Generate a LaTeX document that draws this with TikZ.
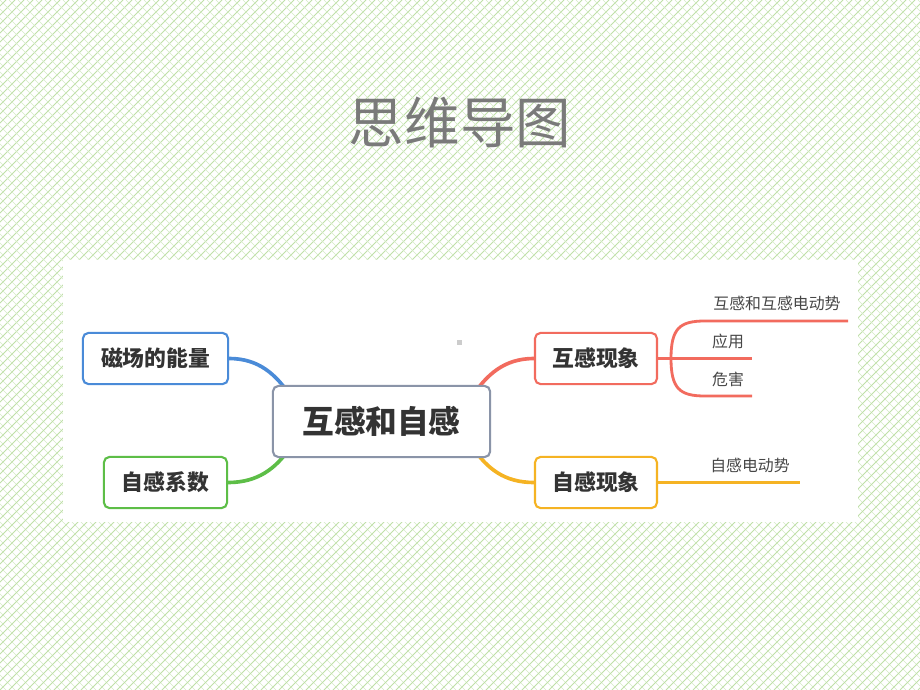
\documentclass[tikz,border=0pt]{standalone}
\usepackage{fontspec}
\newfontfamily\cjk{Noto Sans CJK SC}
\usetikzlibrary{positioning}
\definecolor{hatch}{HTML}{BFE0A8}
\definecolor{titlegray}{HTML}{7A7A7A}
\definecolor{rootline}{HTML}{8A94A8}
\definecolor{bblue}{HTML}{4A8BD8}
\definecolor{bgreen}{HTML}{5DBE47}
\definecolor{bred}{HTML}{F26B5E}
\definecolor{borange}{HTML}{F5B323}
\definecolor{txt}{HTML}{333333}
\pgfdeclarelayer{bg}
\pgfdeclarelayer{links}
\pgfsetlayers{bg,links,main}
\tikzset{
  topic/.style={draw,fill=white,rounded corners=4pt,line width=1.5pt,
    minimum height=1.28cm,text=txt,font=\cjk\bfseries\fontsize{15.5}{18}\selectfont},
  leaf/.style={text=txt!90,font=\cjk\fontsize{11.3}{13}\selectfont,inner sep=1pt},
  branch/.style={line width=2.6pt,line cap=round},
  twig/.style={line width=2pt}
}
\begin{document}
\begin{tikzpicture}[x=0.025cm,y=-0.025cm]
\useasboundingbox (0,0) rectangle (920,690);
% background with hatching
\begin{pgfonlayer}{bg}
\fill[white] (0,0) rectangle (920,690);
\begin{scope}
\clip (0,0) rectangle (920,690);
\foreach \i in {-693,-684,...,925}{
  \draw[hatch,line width=0.7pt] (\i,690) -- (\i+690,0);
  \draw[hatch!65,line width=0.45pt] (\i,0) -- (\i+690,690);
}
\end{scope}
\fill[white] (63,260) rectangle (858,522);
\fill[gray!40] (457,340) rectangle (462,345);
\end{pgfonlayer}
\node[text=titlegray,font=\cjk\fontsize{39.5}{44}\selectfont] (title) at (460,122) {思维导图};
% the map
\node[topic,draw=rootline,minimum width=5.43cm,minimum height=1.78cm,
  font=\cjk\bfseries\fontsize{22.5}{26}\selectfont] (root) at (381.5,421.5) {互感和自感};
\node[topic,draw=bblue,minimum width=3.63cm] (energy) at (155.5,358.5) {磁场的能量};
\node[topic,draw=bgreen,minimum width=3.08cm] (coef) at (165.5,482.5) {自感系数};
\node[topic,draw=bred,minimum width=3.05cm] (mutual) at (596,358.5) {互感现象};
\node[topic,draw=borange,minimum width=3.05cm] (self) at (596,482.5) {自感现象};
\begin{pgfonlayer}{links}
\draw[branch,bblue] (energy.east) .. controls +(30,0) and +(-14,-20) .. ([shift={(18,10)}]root.north west);
\draw[branch,bgreen] (coef.east) .. controls +(30,0) and +(-14,20) .. ([shift={(18,-10)}]root.south west);
\draw[branch,bred] (mutual.west) .. controls +(-30,0) and +(14,-20) .. ([shift={(-18,10)}]root.north east);
\draw[branch,borange] (self.west) .. controls +(-30,0) and +(14,20) .. ([shift={(-18,-10)}]root.south east);
\end{pgfonlayer}
% sub topics
\coordinate (fork) at (671,358.5);
\coordinate (e1) at (848,321);
\coordinate (e2) at (752,358.5);
\coordinate (e3) at (752,396);
\coordinate (e4) at (800,482.5);
\draw[twig,bred] (mutual.east) -- (fork);
\draw[twig,bred] (fork) .. controls (671,328) and (680,321) .. (705,321) -- (e1);
\draw[twig,bred] (fork) -- (e2);
\draw[twig,bred] (fork) .. controls (671,389) and (680,396) .. (705,396) -- (e3);
\draw[twig,borange] (self.east) -- (e4);
\node[leaf] (mutemf) at (777,303) {互感和互感电动势};
\node[leaf] (use) at (728,341) {应用};
\node[leaf] (harm) at (728,379) {危害};
\node[leaf] (selfemf) at (750,465) {自感电动势};
\end{tikzpicture}
\end{document}
